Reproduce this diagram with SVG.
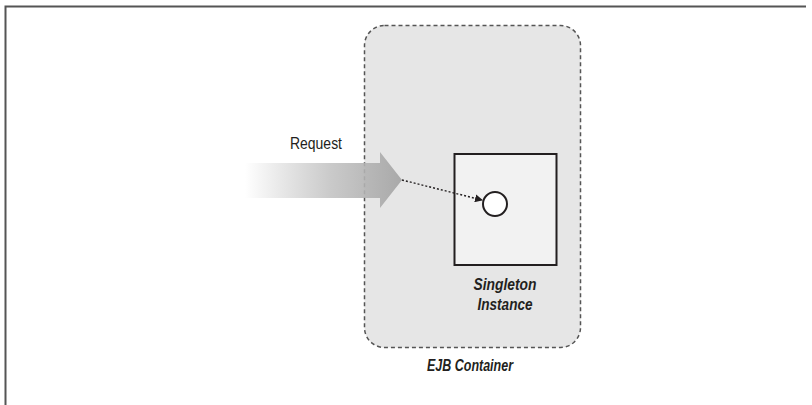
<svg xmlns="http://www.w3.org/2000/svg" width="812" height="405" viewBox="0 0 812 405">
<defs>
<style>
.lbl{font-family:"Liberation Sans Narrow","Liberation Sans",Arial,sans-serif;fill:#231f20}
.bi{font-weight:bold;font-style:italic;font-size:17px}
</style>
<linearGradient id="g" x1="245" y1="0" x2="402" y2="0" gradientUnits="userSpaceOnUse">
<stop offset="0" stop-color="#b8b8b8" stop-opacity="0"/>
<stop offset="0.55" stop-color="#bcbcbc" stop-opacity="0.8"/>
<stop offset="1" stop-color="#a9a9a9"/>
</linearGradient>
<marker id="ah" markerWidth="8" markerHeight="8" refX="7" refY="4" orient="auto" markerUnits="userSpaceOnUse">
<path d="M0,0 L8,4 L0,8 z" fill="#231f20"/>
</marker>
</defs>
<rect width="812" height="405" fill="#fff"/>
<g id="frame">
<path d="M5.5,405 V6.5 H806" fill="none" stroke="#555" stroke-width="2"/>
</g>
<g id="container">
<rect x="364.5" y="25.5" width="216" height="322" rx="20" fill="#e6e6e6" stroke="#555" stroke-width="1.5" stroke-dasharray="4,3"/>
<text class="lbl bi" x="470" y="371" text-anchor="middle" textLength="86" lengthAdjust="spacingAndGlyphs">EJB Container</text>
</g>
<g id="request">
<path d="M245,163 H380 V152 L402,180 L380,208 V198 H245 z" fill="url(#g)"/>
<text class="lbl" x="316" y="149" text-anchor="middle" font-size="17" textLength="52" lengthAdjust="spacingAndGlyphs">Request</text>
</g>
<g id="instance">
<rect x="454.5" y="154" width="102" height="111" fill="#f2f2f2" stroke="#231f20" stroke-width="2"/>
<circle cx="495" cy="204" r="12" fill="#fff" stroke="#231f20" stroke-width="2"/>
<text class="lbl bi" x="505" y="290" text-anchor="middle" textLength="63" lengthAdjust="spacingAndGlyphs">Singleton</text>
<text class="lbl bi" x="505" y="310" text-anchor="middle" textLength="55" lengthAdjust="spacingAndGlyphs">Instance</text>
</g>
<g id="connectors">
<line x1="402" y1="180" x2="482" y2="200" stroke="#231f20" stroke-width="1.4" stroke-dasharray="2,2" marker-end="url(#ah)"/>
</g>
</svg>
